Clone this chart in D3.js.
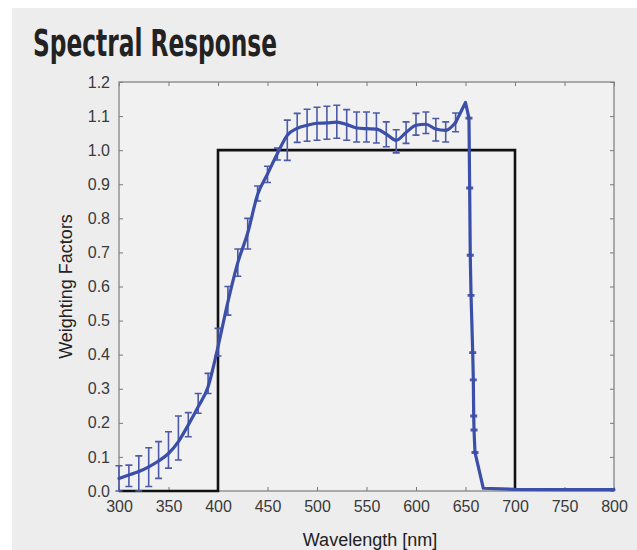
<!DOCTYPE html>
<html lang="en">
  <head>
    <meta charset="utf-8">
    <title>Spectral Response</title>
    <style type="text/css">
      body { margin: 0; background: #fff; }
      .tick text { font-family: "Liberation Sans", Arial, sans-serif; font-size: 16px; fill: #3a3a3a; }
      .tick line { stroke: #777; }
    </style>
  </head>
  <body>
<div id="container"></div>
<script src="https://cdn.jsdelivr.net/npm/d3@7"></script>
<script>

var width = 637, height = 550;

// ------ data ------
var wavelength = [300,310,320,330,340,350,360,370,380,390,400,410,420,430,440,450,460,470,480,490,
                  500,510,520,530,540,550,560,570,580,590,600,610,620,630,640,650,
                  653.5,654.2,654.8,655.6,657.3,657.9,658.3,658.6,659.6,668,700,750,800];
var response   = [0.037,0.047,0.057,0.071,0.088,0.110,0.145,0.194,0.247,0.306,0.423,0.555,0.670,0.757,0.870,0.930,0.990,1.044,1.064,1.073,
                  1.079,1.080,1.082,1.075,1.065,1.063,1.062,1.047,1.029,1.052,1.073,1.076,1.062,1.058,1.081,1.140,
                  1.094,0.889,0.692,0.574,0.406,0.326,0.220,0.179,0.113,0.008,0.005,0.004,0.004];
var errLow     = [0.000,0.013,0.000,0.013,0.037,0.067,0.091,0.159,0.228,0.286,0.396,0.516,0.630,0.710,0.851,0.905,0.971,0.970,1.023,1.026,
                  1.029,1.032,1.035,1.029,1.024,1.024,1.021,1.010,0.992,1.020,1.044,1.049,1.027,1.024,1.054,null,
                  1.092,0.887,0.690,0.572,0.404,0.324,0.218,0.177,0.111,null,null,null,null];
var errHigh    = [0.074,0.076,0.103,0.127,0.145,0.174,0.220,0.230,0.286,0.345,0.477,0.600,0.710,0.800,0.895,0.953,1.006,1.088,1.108,1.120,
                  1.126,1.129,1.132,1.119,1.112,1.112,1.109,1.083,1.060,1.083,1.108,1.112,1.093,1.083,1.109,null,
                  1.096,0.891,0.694,0.576,0.408,0.328,0.222,0.181,0.115,null,null,null,null];

// ideal (box) weighting
var boxX = [300,400,400,700,700];
var boxY = [0,0,1,1,0];

var xTicks = [300,350,400,450,500,550,600,650,700,750,800];
var yTicks = [0,0.1,0.2,0.3,0.4,0.5,0.6,0.7,0.8,0.9,1.0,1.1,1.2];
// ---------------------------------------

var plotL = 119, plotR = 614, plotT = 82, plotB = 491;

var x = d3.scaleLinear().domain([300,800]).range([plotL,plotR]);
var y = d3.scaleLinear().domain([0,1.2]).range([plotB,plotT]);

var svg = d3.select("#container").append("svg")
    .attr("width", width)
    .attr("height", height);

svg.append("rect").attr("x",12).attr("y",8).attr("width",width-12).attr("height",height-8).style("fill","#ededed");
svg.append("rect").attr("x",plotL).attr("y",plotT).attr("width",plotR-plotL).attr("height",plotB-plotT).style("fill","#f1f1f1");

svg.append("text")
    .attr("x",33).attr("y",56)
    .attr("textLength",244).attr("lengthAdjust","spacingAndGlyphs")
    .style("font-family",'"Liberation Sans Narrow","DejaVu Sans Condensed",sans-serif')
    .style("font-weight","bold").style("font-size","37px").style("fill","#222")
    .text("Spectral Response");

var fmt = d3.format(".1f");

svg.append("g").attr("transform","translate(0,"+plotB+")")
  .call(d3.axisBottom(x).tickValues(xTicks).tickSizeInner(-4).tickSizeOuter(0).tickPadding(10))
  .call(function(g){ g.select(".domain").remove(); });
svg.append("g").attr("transform","translate(0,"+plotT+")")
  .call(d3.axisTop(x).tickValues(xTicks).tickSizeInner(-4).tickSizeOuter(0).tickFormat(""))
  .call(function(g){ g.select(".domain").remove(); });
svg.append("g").attr("transform","translate("+plotL+",0)")
  .call(d3.axisLeft(y).tickValues(yTicks).tickSizeInner(-4).tickSizeOuter(0).tickPadding(9).tickFormat(fmt))
  .call(function(g){ g.select(".domain").remove(); });
svg.append("g").attr("transform","translate("+plotR+",0)")
  .call(d3.axisRight(y).tickValues(yTicks).tickSizeInner(-4).tickSizeOuter(0).tickFormat(""))
  .call(function(g){ g.select(".domain").remove(); });

svg.append("rect").attr("x",plotL).attr("y",plotT).attr("width",plotR-plotL).attr("height",plotB-plotT)
  .style("fill","none").style("stroke","#858585").style("stroke-width",1.3);

// box
var box = boxX.map(function(v,i){ return [v, boxY[i]]; });
svg.append("path").datum(box)
  .attr("d", d3.line().x(function(d){return x(d[0])}).y(function(d){return y(d[1])}))
  .style("fill","none").style("stroke","#111").style("stroke-width",2.6);

// measured response
var pts = wavelength.map(function(v,i){ return {w:v, r:response[i], lo:errLow[i], hi:errHigh[i]}; });

var bars = svg.append("g").style("stroke","#4c5aa8").style("stroke-width",1.6).style("fill","none");
pts.filter(function(d){ return d.lo !== null; }).forEach(function(d){
  var cx = x(d.w), c = 3.5;
  bars.append("path").attr("d",
    "M"+(cx-c)+","+y(d.hi)+"H"+(cx+c)+
    "M"+cx+","+y(d.hi)+"V"+y(d.lo)+
    "M"+(cx-c)+","+y(d.lo)+"H"+(cx+c));
});

// smooth up to 640 nm, straight after (sharp peak and cut-off)
var split = wavelength.indexOf(640);
function lineOf(curve){
  return d3.line().curve(curve).x(function(d){return x(d.w)}).y(function(d){return y(d.r)});
}
[[pts.slice(0, split+1), d3.curveMonotoneX], [pts.slice(split), d3.curveLinear]].forEach(function(p){
  svg.append("path").datum(p[0])
    .attr("d", lineOf(p[1]))
    .style("fill","none").style("stroke","#3b4ea8").style("stroke-width",3.2)
    .style("stroke-linejoin","round").style("stroke-linecap","round");
});

svg.append("text")
    .attr("x",370).attr("y",546).attr("text-anchor","middle")
    .style("font-family",'"Liberation Sans",Arial,sans-serif').style("font-size","18px").style("fill","#222")
    .text("Wavelength [nm]");
svg.append("text")
    .attr("transform","translate(72,"+((plotT+plotB)/2)+") rotate(-90)").attr("text-anchor","middle")
    .style("font-family",'"Liberation Sans",Arial,sans-serif').style("font-size","18px").style("fill","#222")
    .text("Weighting Factors");

</script>
  </body>
</html>
